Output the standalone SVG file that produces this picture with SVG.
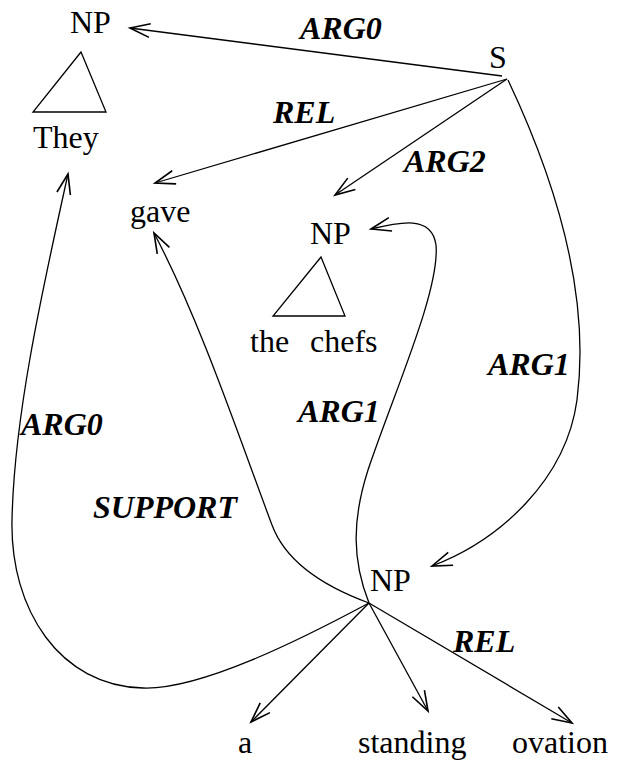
<svg xmlns="http://www.w3.org/2000/svg" width="624" height="769" viewBox="0 0 624 769">
<style>
.t{font-family:'Liberation Serif','Times New Roman','DejaVu Serif',serif;font-size:32px;fill:#000}
.l{font-family:'Liberation Serif','Times New Roman','DejaVu Serif',serif;font-size:32px;font-weight:bold;font-style:italic;fill:#000}
.e{fill:none;stroke:#000;stroke-width:1.3;marker-end:url(#ah)}
.tri{fill:none;stroke:#000;stroke-width:1.3}
</style>
<defs>
<marker id="ah" markerUnits="userSpaceOnUse" markerWidth="30" markerHeight="20" viewBox="-17 -8 20 16" refX="0" refY="0" orient="auto">
<path d="M-16,-5.5 L0,0 L-16,5.5" fill="none" stroke="#000" stroke-width="1.3"/>
</marker>
</defs>
<rect width="624" height="769" fill="#fff"/>
<g id="np-they">
<text class="t" x="70" y="33">NP</text>
<polygon class="tri" points="81,52 33,112 106,112"/>
<text class="t" x="33" y="148">They</text>
</g>
<g id="s"><text class="t" x="489" y="68">S</text></g>
<g id="gave"><text class="t" x="130" y="222">gave</text></g>
<g id="np-chefs">
<text class="t" x="310" y="244">NP</text>
<polygon class="tri" points="321,257 273,316 345,316"/>
<text class="t" x="250" y="352">the<tspan x="310">chefs</tspan></text>
</g>
<g id="np-ovation"><text class="t" x="370" y="591">NP</text></g>
<g id="a"><text class="t" x="238" y="753">a</text></g>
<g id="standing"><text class="t" x="358" y="753">standing</text></g>
<g id="ovation"><text class="t" x="512" y="753">ovation</text></g>
<g id="connectors">
<path class="e" d="M502,76 L130,28"/>
<path class="e" d="M507,79 L155,183"/>
<path class="e" d="M507,79 L335,195"/>
<path class="e" d="M508,80 C560,190 590,300 577,400 C566,480 500,540 432,566"/>
<path class="e" d="M369,603 C352,560 352,520 368,470 C395,390 440,290 436,245 C432,215 400,222 371,229"/>
<path class="e" d="M369,603 C320,585 285,560 272,525 C240,440 200,320 154,233"/>
<path class="e" d="M369,603 C300,640 200,690 143,688 C60,686 10,610 12,520 C14,420 40,300 68,174"/>
<path class="e" d="M369,603 L251,722"/>
<path class="e" d="M369,603 L428,711"/>
<path class="e" d="M369,603 L572,723"/>
<text class="l" x="300" y="39">ARG0</text>
<text class="l" x="273" y="123">REL</text>
<text class="l" x="404" y="172">ARG2</text>
<text class="l" x="488" y="375">ARG1</text>
<text class="l" x="298" y="422">ARG1</text>
<text class="l" x="21" y="435">ARG0</text>
<text class="l" x="93" y="518">SUPPORT</text>
<text class="l" x="453" y="652">REL</text>
</g>
</svg>
